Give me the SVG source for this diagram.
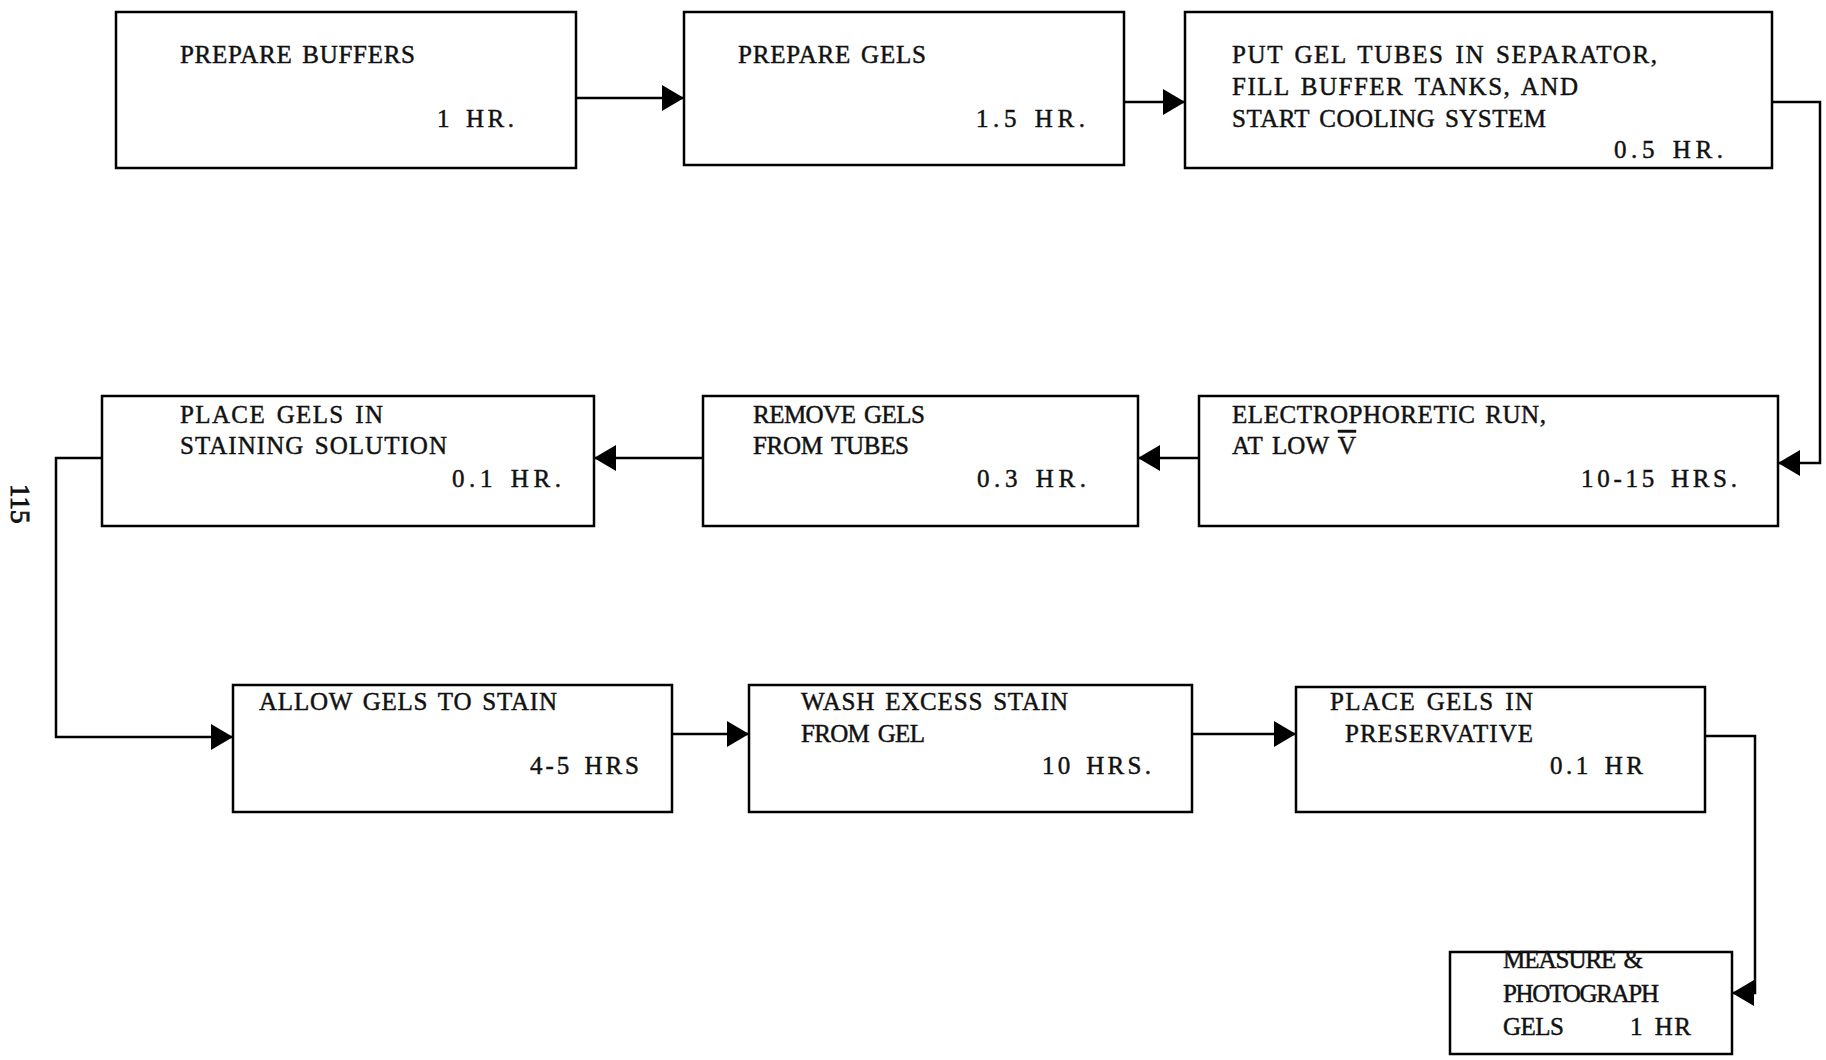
<svg xmlns="http://www.w3.org/2000/svg" width="1826" height="1060" viewBox="0 0 1826 1060">
<style>
.box{fill:none;stroke:#000;stroke-width:2.5}
.t{font-family:"Liberation Serif","Times New Roman",serif;font-size:25px;word-spacing:3px;fill:#111;stroke:#111;stroke-width:0.45}
.c{fill:none;stroke:#000;stroke-width:2.5}
</style>
<defs>
<marker id="ah" viewBox="0 0 22 26" refX="22" refY="13" markerWidth="22" markerHeight="26" markerUnits="userSpaceOnUse" orient="auto">
<path d="M0,0 L22,13 L0,26 z" fill="#000"/>
</marker>
</defs>
<rect width="1826" height="1060" fill="#fff"/>

<g id="n1">
<rect class="box" x="116" y="12" width="460" height="156"/>
<text class="t" x="180" y="63" textLength="235" lengthAdjust="spacing">PREPARE BUFFERS</text>
<text class="t" x="437" y="127" textLength="77" lengthAdjust="spacing">1 HR.</text>
</g>
<g id="n2">
<rect class="box" x="684" y="12" width="440" height="153"/>
<text class="t" x="738" y="63" textLength="188" lengthAdjust="spacing">PREPARE GELS</text>
<text class="t" x="976" y="127" textLength="109" lengthAdjust="spacing">1.5 HR.</text>
</g>
<g id="n3">
<rect class="box" x="1185" y="12" width="587" height="156"/>
<text class="t" x="1232" y="63" textLength="425" lengthAdjust="spacing">PUT GEL TUBES IN SEPARATOR,</text>
<text class="t" x="1232" y="95" textLength="346" lengthAdjust="spacing">FILL BUFFER TANKS, AND</text>
<text class="t" x="1232" y="127" textLength="314" lengthAdjust="spacing">START COOLING SYSTEM</text>
<text class="t" x="1614" y="158" textLength="109" lengthAdjust="spacing">0.5 HR.</text>
</g>
<g id="n4">
<rect class="box" x="1199" y="396" width="579" height="130"/>
<text class="t" x="1232" y="423" textLength="314" lengthAdjust="spacing">ELECTROPHORETIC RUN,</text>
<text class="t" x="1232" y="454" textLength="124" lengthAdjust="spacing">AT LOW <tspan text-decoration="overline">V</tspan></text>
<text class="t" x="1581" y="487" textLength="156" lengthAdjust="spacing">10-15 HRS.</text>
</g>
<g id="n5">
<rect class="box" x="703" y="396" width="435" height="130"/>
<text class="t" x="753" y="423" textLength="172" lengthAdjust="spacing">REMOVE GELS</text>
<text class="t" x="753" y="454" textLength="156" lengthAdjust="spacing">FROM TUBES</text>
<text class="t" x="977" y="487" textLength="109" lengthAdjust="spacing">0.3 HR.</text>
</g>
<g id="n6">
<rect class="box" x="102" y="396" width="492" height="130"/>
<text class="t" x="180" y="423" textLength="203" lengthAdjust="spacing">PLACE GELS IN</text>
<text class="t" x="180" y="454" textLength="267" lengthAdjust="spacing">STAINING SOLUTION</text>
<text class="t" x="452" y="487" textLength="109" lengthAdjust="spacing">0.1 HR.</text>
</g>
<g id="n7">
<rect class="box" x="233" y="685" width="439" height="127"/>
<text class="t" x="259" y="710" textLength="298" lengthAdjust="spacing">ALLOW GELS TO STAIN</text>
<text class="t" x="530" y="774" textLength="109" lengthAdjust="spacing">4-5 HRS</text>
</g>
<g id="n8">
<rect class="box" x="749" y="685" width="443" height="127"/>
<text class="t" x="801" y="710" textLength="267" lengthAdjust="spacing">WASH EXCESS STAIN</text>
<text class="t" x="801" y="742" textLength="124" lengthAdjust="spacing">FROM GEL</text>
<text class="t" x="1042" y="774" textLength="109" lengthAdjust="spacing">10 HRS.</text>
</g>
<g id="n9">
<rect class="box" x="1296" y="687" width="409" height="125"/>
<text class="t" x="1330" y="710" textLength="203" lengthAdjust="spacing">PLACE GELS IN</text>
<text class="t" x="1345" y="742" textLength="188" lengthAdjust="spacing">PRESERVATIVE</text>
<text class="t" x="1550" y="774" textLength="93" lengthAdjust="spacing">0.1 HR</text>
</g>
<g id="n10">
<rect class="box" x="1450" y="952" width="282" height="102"/>
<text class="t" x="1503" y="968" textLength="140" lengthAdjust="spacing">MEASURE &amp;</text>
<text class="t" x="1503" y="1002" textLength="156" lengthAdjust="spacing">PHOTOGRAPH</text>
<text class="t" x="1503" y="1035" textLength="61" lengthAdjust="spacing">GELS</text>
<text class="t" x="1630" y="1035" textLength="61" lengthAdjust="spacing">1 HR</text>
</g>

<g id="connectors">
<path class="c" d="M576,98 H684" marker-end="url(#ah)"/>
<path class="c" d="M1124,102 H1185" marker-end="url(#ah)"/>
<path class="c" d="M1772,102 H1820 V463 H1778" marker-end="url(#ah)"/>
<path class="c" d="M1199,458 H1138" marker-end="url(#ah)"/>
<path class="c" d="M703,458 H594" marker-end="url(#ah)"/>
<path class="c" d="M102,458 H56 V737 H233" marker-end="url(#ah)"/>
<path class="c" d="M672,734 H749" marker-end="url(#ah)"/>
<path class="c" d="M1192,734 H1296" marker-end="url(#ah)"/>
<path class="c" d="M1705,736 H1755 V993 H1732" marker-end="url(#ah)"/>
</g>

<text class="t" style="font-size:27px;stroke-width:0.9" transform="translate(11,484) rotate(90)">115</text>
</svg>
